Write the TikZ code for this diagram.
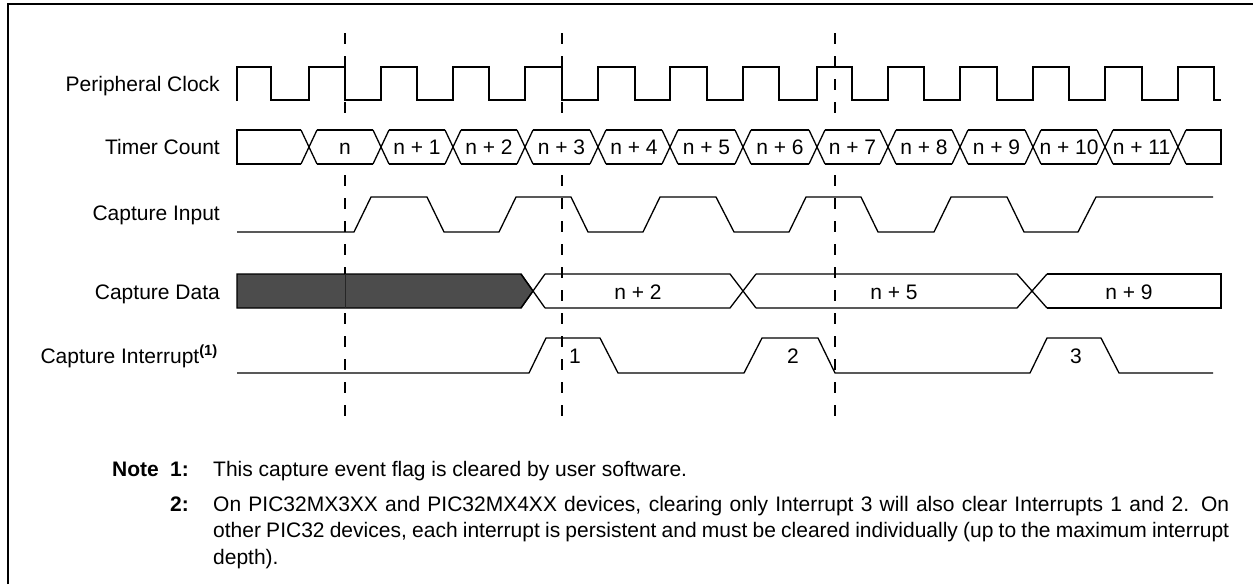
\documentclass[tikz,border=0pt]{standalone}
\usepackage{fontspec}
\setmainfont{Liberation Sans}
\newcommand\fsz{\fontsize{21}{25}\selectfont}
\begin{document}
\begin{tikzpicture}[x=1pt,y=-1pt,
  sig/.style={line width=1.3pt,line join=miter},
  dashline/.style={line width=1.2pt,dash pattern=on 11pt off 12pt},
  frameline/.style={line width=1.6pt},
  lbl/.style={font=\fsz,anchor=base east,inner sep=0pt},
  val/.style={font=\fsz,anchor=base,inner sep=0pt},
  note/.style={font=\fsz,anchor=base west,inner sep=0pt},
  notenum/.style={font=\fsz\bfseries,anchor=base east,inner sep=0pt}]
\useasboundingbox (0,0) rectangle (1253,584);
\fill[white] (0,0) rectangle (1253,584);
% frame
\draw[frameline] (8,584) -- (8,4) -- (1253,4);
% labels
\node[lbl] (lclk) at (220,91.5) {Peripheral Clock};
\node[lbl] (ltmr) at (220,154.5) {Timer Count};
\node[lbl] (lin) at (220,220.5) {Capture Input};
\node[lbl] (ldat) at (220,299.5) {Capture Data};
\node[lbl] (lint) at (218,363.5) {Capture Interrupt\textsuperscript{\bfseries(1)}};
% dashed markers (interrupted across the timer count row)
\foreach \x in {345,562,835} {
  \draw[dashline] (\x,33) -- (\x,118);
  \draw[dashline] (\x,175) -- (\x,416);
}
% clock
\draw[sig] (237,101) |- (271,67) |- (309,100) |- (345,67) |- (381,100) |- (417,67)
  |- (453,100) |- (489,67) |- (525,100) |- (562,67) |- (598,100) |- (635,67)
  |- (670,100) |- (707,67) |- (743,100) |- (779,67) |- (817,100) |- (852,67)
  |- (888,100) |- (924,67) |- (960,100) |- (997,67) |- (1033,100) |- (1069,67)
  |- (1105,100) |- (1142,67) |- (1178,100) |- (1214,67) |- (1221,100);
% timer count bus
\draw[sig] (301,130) -- (237,130) -- (237,164) -- (301,164);
\draw[sig] (1186,130) -- (1221,130) -- (1221,164) -- (1186,164);
\foreach \c in {309,381,453,525,598,670,743,817,888,960,1033,1105,1178}
  \draw[sig] (\c-8,130) -- (\c+8,164) (\c-8,164) -- (\c+8,130);
\foreach \a/\b/\t [count=\i] in {309/381/n,381/453/n + 1,453/525/n + 2,525/598/n + 3,
   598/670/n + 4,670/743/n + 5,743/817/n + 6,817/888/n + 7,888/960/n + 8,
   960/1033/n + 9,1033/1105/n + 10,1105/1178/n + 11}{
  \draw[sig] (\a+8,130) -- (\b-8,130) (\a+8,164) -- (\b-8,164);
  \node[val] (t\i) at ({(\a+\b)/2},154.5) {\t};
}
% capture input
\draw[sig] (237,232) -- (354,232) -- (371,197) -- (427,197) -- (444,232) -- (499,232)
  -- (516,197) -- (571,197) -- (588,232) -- (643,232) -- (660,197) -- (716,197)
  -- (734,232) -- (789,232) -- (806,197) -- (861,197) -- (878,232) -- (934,232)
  -- (951,197) -- (1007,197) -- (1024,232) -- (1078,232) -- (1096,197) -- (1213,197);
% capture data
\filldraw[sig,fill=black!70] (237,274) -- (521,274) -- (533,291) -- (521,308) -- (237,308) -- cycle;
\draw[line width=1pt,black!85] (345,274) -- (345,308);
\draw[sig] (521,274) -- (545,308) (521,308) -- (545,274);
\draw[sig] (545,274) -- (730,274) -- (756,308) (545,308) -- (730,308) -- (756,274);
\draw[sig] (756,274) -- (1017,274) -- (1047,308) (756,308) -- (1017,308) -- (1047,274);
\draw[sig] (1047,274) -- (1221,274) -- (1221,308) -- (1047,308);
\node[val] (d1) at (638,299.5) {n + 2};
\node[val] (d2) at (894,299.5) {n + 5};
\node[val] (d3) at (1129,299.5) {n + 9};
% capture interrupt
\draw[sig] (237,373) -- (529,373) -- (546,338) -- (600,338) -- (618,373) -- (744,373)
  -- (762,338) -- (818,338) -- (835,373) -- (1030,373) -- (1047,338) -- (1101,338)
  -- (1119,373) -- (1213,373);
\node[val] (i1) at (575,363.5) {1};
\node[val] (i2) at (793,363.5) {2};
\node[val] (i3) at (1076,363.5) {3};
% notes
\node[note,font=\fsz\bfseries] (nt) at (112,476) {Note};
\node[notenum] (n1) at (189,476) {1:};
\node[notenum] (n2) at (189,511) {2:};
\node[note] (t1) at (213,476) {This capture event flag is cleared by user software.};
\node[note] (t2) at (213,511) {\makebox[1016pt][s]{On PIC32MX3XX and PIC32MX4XX devices, clearing only Interrupt 3 will also clear Interrupts 1 and 2. On}};
\node[note] (t3) at (213,537) {\makebox[1016pt][s]{other PIC32 devices, each interrupt is persistent and must be cleared individually (up to the maximum interrupt}};
\node[note] (t4) at (213,564) {depth).};
\end{tikzpicture}
\end{document}
